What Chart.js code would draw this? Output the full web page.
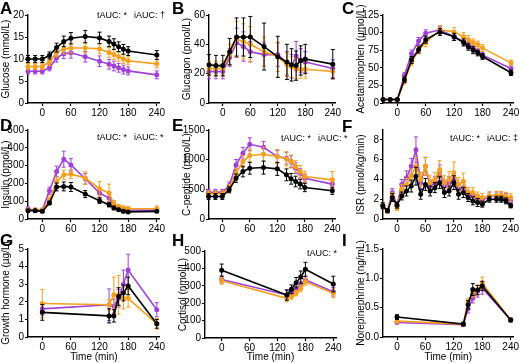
<!DOCTYPE html>
<html>
<head>
<meta charset="utf-8">
<script src="https://cdn.jsdelivr.net/npm/chart.js@4.4.0/dist/chart.umd.min.js"></script>
<style>
  body { margin: 0; background: #fff; width: 520px; height: 363px; position: relative; overflow: hidden; font-family: "Liberation Sans", Arial, sans-serif; }
  canvas { position: absolute; }
  .letter { position: absolute; font-weight: bold; font-size: 17px; line-height: 1; color: #000; }
  .auc { position: absolute; font-size: 9px; line-height: 1; white-space: nowrap; color: #000; }
</style>
</head>
<body>

<script>
// time points (min)
const mealTimes = [-30, -15, 0, 15, 30, 45, 60, 90, 120, 140, 150, 160, 170, 180, 240];
const isrTimes = [-30, -20, -10, 0, 10, 20, 30, 40, 50, 60, 70, 80, 90, 100, 110, 120, 130, 140, 150, 160, 170, 180, 195, 210, 220, 230, 240];
const lateTimes = [0, 140, 150, 160, 170, 180, 240];
const timeTicks = [0, 60, 120, 180, 240];

// A glucose (mmol/L)
const glucoseBlack = [10.0, 10.0, 10.0, 10.8, 12.6, 14.0, 14.7, 15.1, 14.8, 14.0, 13.4, 12.8, 12.2, 11.8, 10.9];
const glucoseBlackErr = [0.8, 0.8, 0.8, 0.8, 1.0, 1.2, 1.3, 1.4, 1.3, 1.2, 1.2, 1.1, 1.1, 1.0, 1.0];
const glucoseOrange = [8.3, 8.3, 8.3, 9.3, 11.5, 12.3, 12.5, 12.5, 12.3, 11.5, 11.0, 10.5, 10.0, 9.6, 8.9];
const glucoseOrangeErr = [0.7, 0.7, 0.7, 0.8, 1.0, 1.1, 1.1, 1.1, 1.1, 1.1, 1.1, 1.0, 1.0, 0.9, 0.9];
const glucosePurple = [7.2, 7.2, 7.2, 8.0, 10.3, 11.2, 11.4, 10.5, 9.5, 8.8, 8.4, 8.0, 7.6, 7.3, 6.4];
const glucosePurpleErr = [0.6, 0.6, 0.6, 0.7, 1.0, 1.1, 1.2, 1.2, 1.2, 1.1, 1.1, 1.0, 1.0, 0.9, 0.9];
const glucoseTicks = [0, 5, 10, 15, 20];

// B glucagon (pmol/L)
const glucagonBlack = [26, 25.5, 25.5, 35, 45, 45, 45, 38.5, 31.5, 28, 26, 25.5, 29, 30, 26.5];
const glucagonBlackErr = [7, 7, 7, 9, 13, 13, 14, 16, 14, 12, 11, 10, 10, 10, 10];
const glucagonOrange = [23.5, 23.5, 23.5, 33, 43.5, 42, 40, 35, 31.5, 26, 24.5, 23.5, 23, 23, 21.5];
const glucagonOrangeErr = [5, 5, 5, 7, 12, 12, 12, 10, 10, 8, 7, 7, 6, 6, 5];
const glucagonPurple = [21.5, 21.5, 21.5, 31, 41, 38.5, 35, 33, 33, 27, 25, 32, 29, 28, 23.5];
const glucagonPurpleErr = [5, 5, 5, 6, 10, 10, 7, 8, 8, 8, 8, 10, 8, 7, 6];
const glucagonTicks = [0, 20, 40, 60];

// C acetaminophen (umol/L)
const acetaBlack = [5, 5, 5, 33, 61, 76, 90, 101, 94, 86, 80, 75, 71, 66, 43];
const acetaBlackErr = [1, 1, 1, 4, 5, 5, 5, 5, 5, 5, 5, 5, 4, 4, 4];
const acetaOrange = [5, 5, 5, 31, 58, 75, 86, 104, 101, 94, 90, 86, 83, 78, 57];
const acetaOrangeErr = [1, 1, 1, 4, 5, 5, 6, 6, 6, 6, 6, 5, 5, 5, 4];
const acetaPurple = [5, 5, 5, 39, 70, 88, 99, 104, 94, 87, 82, 79, 73, 68, 49];
const acetaPurpleErr = [1, 1, 1, 4, 5, 5, 5, 5, 5, 5, 5, 5, 4, 4, 4];
const acetaTicks = [0, 25, 50, 75, 100, 125];

// D insulin (pmol/L)
const insulinBlack = [47, 47, 43, 90, 180, 183, 180, 140, 103, 80, 62, 52, 43, 40, 43];
const insulinBlackErr = [8, 8, 8, 10, 22, 25, 25, 20, 15, 12, 10, 8, 8, 6, 6];
const insulinOrange = [50, 50, 50, 108, 211, 248, 252, 230, 170, 146, 84, 67, 62, 58, 58];
const insulinOrangeErr = [10, 10, 10, 15, 25, 25, 25, 35, 40, 50, 20, 15, 12, 12, 15];
const insulinPurple = [56, 50, 50, 159, 267, 336, 304, 226, 146, 118, 80, 65, 56, 49, 50];
const insulinPurpleErr = [12, 10, 10, 20, 30, 45, 35, 30, 25, 20, 15, 12, 10, 8, 10];
const insulinTicks = [0, 100, 200, 300, 400, 500];

// E C-peptide (pmol/L)
const cpepBlack = [380, 380, 380, 492, 688, 800, 856, 867, 845, 744, 677, 632, 588, 531, 476];
const cpepBlackErr = [50, 50, 50, 50, 70, 90, 100, 110, 110, 100, 90, 90, 80, 70, 60];
const cpepOrange = [425, 425, 425, 520, 772, 968, 1069, 1091, 1052, 1013, 968, 884, 800, 716, 660];
const cpepOrangeErr = [50, 50, 50, 60, 80, 100, 110, 120, 120, 120, 110, 100, 100, 90, 140];
const cpepPurple = [450, 450, 450, 565, 912, 1108, 1259, 1208, 1052, 1024, 968, 856, 772, 688, 588];
const cpepPurpleErr = [50, 50, 50, 60, 90, 100, 110, 100, 100, 100, 100, 90, 80, 70, 70];
const cpepTicks = [0, 500, 1000, 1500];

// F insulin secretion rate (pmol/kg/min)
const isrBlack = [1.33, 0.83, 2.17, 1.4, 2.33, 2.83, 3.33, 4.33, 2.5, 3.5, 2.83, 3.17, 3.67, 2.67, 2.83, 3.67, 2.5, 2.67, 2.17, 1.83, 1.67, 1.5, 2.0, 2.0, 2.0, 1.83, 1.33];
const isrBlackErr = [0.3, 0.2, 0.4, 0.3, 0.4, 0.5, 0.6, 0.9, 0.5, 0.6, 0.5, 0.5, 0.6, 0.5, 0.5, 0.7, 0.5, 0.5, 0.4, 0.4, 0.4, 0.3, 0.3, 0.3, 0.3, 0.3, 0.2];
const isrOrange = [1.33, 0.83, 2.3, 1.17, 3.0, 3.5, 4.33, 5.33, 4.0, 5.33, 3.67, 4.0, 5.0, 3.67, 4.0, 4.67, 3.5, 3.83, 2.67, 2.67, 2.33, 2.17, 2.33, 2.4, 2.4, 2.3, 2.17];
const isrOrangeErr = [0.3, 0.2, 0.4, 0.3, 0.5, 0.6, 0.7, 0.9, 0.7, 0.9, 0.7, 0.7, 0.9, 0.7, 0.8, 1.1, 0.7, 0.8, 0.5, 0.5, 0.4, 0.4, 0.4, 0.4, 0.4, 0.4, 0.4];
const isrPurple = [1.33, 0.83, 2.67, 1.4, 3.5, 4.17, 5.33, 7.0, 3.67, 5.33, 3.33, 3.67, 4.67, 3.33, 3.67, 4.0, 3.0, 3.17, 2.5, 2.33, 2.0, 1.83, 2.33, 2.33, 2.33, 2.2, 1.83];
const isrPurpleErr = [0.3, 0.2, 0.4, 0.3, 0.5, 0.7, 0.8, 1.3, 0.6, 0.9, 0.6, 0.6, 0.8, 0.6, 0.6, 0.7, 0.5, 0.5, 0.4, 0.4, 0.4, 0.3, 0.4, 0.4, 0.4, 0.4, 0.3];
const isrTicks = [0, 2, 4, 6, 8];

// G growth hormone (ug/L)
const ghBlack = [1.4, 1.2, 1.2, 2.3, 2.5, 2.9, 0.75];
const ghBlackErr = [0.45, 0.4, 0.35, 0.5, 0.45, 0.5, 0.25];
const ghOrange = [1.9, 1.83, 2.4, 2.4, 2.2, 2.2, 0.75];
const ghOrangeErr = [0.8, 0.3, 1.0, 1.1, 0.6, 0.5, 0.3];
const ghPurple = [1.6, 1.83, 1.75, 2.2, 3.0, 3.8, 1.55];
const ghPurpleErr = [0.35, 0.9, 0.4, 0.5, 0.8, 0.9, 0.4];
const ghTicks = [0, 1, 2, 3, 4, 5];

// H cortisol (nmol/L)
const cortBlack = [390, 247, 280, 318, 350, 395, 310];
const cortBlackErr = [35, 30, 25, 30, 35, 40, 45];
const cortOrange = [329, 228, 238, 257, 285, 323, 257];
const cortOrangeErr = [20, 20, 15, 15, 20, 20, 25];
const cortPurple = [336, 247, 257, 276, 304, 333, 266];
const cortPurpleErr = [20, 25, 20, 20, 20, 20, 25];
const cortTicks = [0, 100, 200, 300, 400, 500];

// I norepinephrine (ng/mL)
const neBlack = [0.34, 0.22, 0.55, 0.81, 0.80, 0.87, 0.29];
const neBlackErr = [0.04, 0.03, 0.07, 0.10, 0.08, 0.08, 0.03];
const neOrange = [0.27, 0.22, 0.60, 0.75, 0.80, 0.92, 0.29];
const neOrangeErr = [0.03, 0.03, 0.06, 0.07, 0.08, 0.10, 0.03];
const nePurple = [0.25, 0.21, 0.48, 0.66, 0.78, 0.83, 0.29];
const nePurpleErr = [0.03, 0.03, 0.07, 0.08, 0.10, 0.10, 0.03];
const neTicks = [0, 0.5, 1.0, 1.5];

const BLACK = '#000000';
const ORANGE = '#f5a020';
const PURPLE = '#a040d8';
const FONT = '"Liberation Sans", Arial, sans-serif';

// draw error bars per dataset so they layer with their own line
const errorBars = {
  id: 'errorBars',
  afterDatasetDraw(chart, args) {
    const ds = chart.data.datasets[args.index];
    const y = chart.scales.y;
    const ctx = chart.ctx;
    ctx.save();
    ctx.strokeStyle = ds.borderColor;
    ctx.lineWidth = 1;
    args.meta.data.forEach((pt, j) => {
      const v = ds.data[j].y, e = ds.errors[j];
      const top = y.getPixelForValue(v + e);
      const bot = y.getPixelForValue(Math.max(v - e, 0));
      ctx.beginPath();
      ctx.moveTo(pt.x, top); ctx.lineTo(pt.x, bot);
      ctx.moveTo(pt.x - 2, top); ctx.lineTo(pt.x + 2, top);
      ctx.moveTo(pt.x - 2, bot); ctx.lineTo(pt.x + 2, bot);
      ctx.stroke();
    });
    ctx.restore();
  }
};

function series(times, vals, errs, color) {
  return {
    data: times.map((t, i) => ({ x: t, y: vals[i] })),
    errors: errs,
    borderColor: color,
    backgroundColor: color,
    borderWidth: 1.6,
    pointRadius: 1.7,
    pointHoverRadius: 0,
    tension: 0,
    clip: false
  };
}

function panel(p) {
  const k = (p.x240 - p.x0) / 240;
  const xmin = -(p.x0 - p.ax) / k;
  const xmax = 246;
  const right = p.x0 + xmax * k;
  const left = p.ax - 28;
  const padRight = 10;
  const width = Math.round(right + padRight - left);
  const height = p.rowBot - p.rowTop;
  const cv = document.createElement('canvas');
  cv.width = width; cv.height = height;
  cv.style.left = left + 'px'; cv.style.top = p.rowTop + 'px';
  cv.style.width = width + 'px'; cv.style.height = height + 'px';
  document.body.appendChild(cv);

  const axisStyle = {
    grid: { display: true, drawOnChartArea: false, drawTicks: true, tickLength: 3, tickColor: BLACK, tickWidth: 1.2 },
    border: { display: true, color: BLACK, width: 1.4 }
  };

  new Chart(cv, {
    type: 'line',
    data: {
      datasets: [
        series(p.times, p.black, p.blackErr, BLACK),
        series(p.times, p.orange, p.orangeErr, ORANGE),
        series(p.times, p.purple, p.purpleErr, PURPLE)
      ]
    },
    options: {
      responsive: false,
      animation: false,
      devicePixelRatio: 1,
      layout: { padding: { top: p.top - p.rowTop, right: width - (right - left), left: 0, bottom: 0 } },
      plugins: { legend: { display: false }, tooltip: { enabled: false } },
      scales: {
        x: Object.assign({
          type: 'linear', min: xmin, max: xmax,
          afterBuildTicks: s => { s.ticks = timeTicks.map(v => ({ value: v })); },
          afterFit: s => { s.height = p.rowBot - p.bot; },
          ticks: { color: BLACK, font: { family: FONT, size: 10 }, padding: 1, maxRotation: 0, autoSkip: false },
          title: { display: !!p.xTitle, text: p.xTitle || '', color: BLACK, font: { family: FONT, size: 10 }, padding: 0 }
        }, axisStyle),
        y: Object.assign({
          type: 'linear', min: 0, max: p.ymax,
          afterBuildTicks: s => { s.ticks = p.yTicks.map(v => ({ value: v })); },
          afterFit: s => { s.width = 28; },
          ticks: { color: BLACK, font: { family: FONT, size: 10 }, padding: 1, callback: v => v.toFixed(p.dec || 0) },
          title: { display: true, text: p.yTitle, color: BLACK, font: { family: FONT, size: 10 }, padding: 0 }
        }, axisStyle)
      }
    },
    plugins: [errorBars]
  });
}

const row1 = { rowTop: 0, rowBot: 117, top: 15, bot: 103 };
const row2 = { rowTop: 115, rowBot: 232, top: 130, bot: 219 };
const row3 = { rowTop: 234, rowBot: 363, top: 249, bot: 337, xTitle: 'Time (min)' };

panel(Object.assign({}, row1, { ax: 28, x0: 42.3, x240: 156.8, times: mealTimes, black: glucoseBlack, blackErr: glucoseBlackErr, orange: glucoseOrange, orangeErr: glucoseOrangeErr, purple: glucosePurple, purpleErr: glucosePurpleErr, ymax: 20, yTicks: glucoseTicks, yTitle: 'Glucose (mmol/L)' }));
panel(Object.assign({}, row1, { ax: 208.5, x0: 222.3, x240: 332.3, times: mealTimes, black: glucagonBlack, blackErr: glucagonBlackErr, orange: glucagonOrange, orangeErr: glucagonOrangeErr, purple: glucagonPurple, purpleErr: glucagonPurpleErr, ymax: 60, yTicks: glucagonTicks, yTitle: 'Glucagon (pmol/L)' }));
panel(Object.assign({}, row1, { ax: 383, x0: 397.3, x240: 511, times: mealTimes, black: acetaBlack, blackErr: acetaBlackErr, orange: acetaOrange, orangeErr: acetaOrangeErr, purple: acetaPurple, purpleErr: acetaPurpleErr, ymax: 125, yTicks: acetaTicks, yTitle: 'Acetaminophen (µmol/L)' }));

panel(Object.assign({}, row2, { ax: 28, x0: 42.3, x240: 156.8, times: mealTimes, black: insulinBlack, blackErr: insulinBlackErr, orange: insulinOrange, orangeErr: insulinOrangeErr, purple: insulinPurple, purpleErr: insulinPurpleErr, ymax: 500, yTicks: insulinTicks, yTitle: 'Insulin (pmol/L)' }));
panel(Object.assign({}, row2, { ax: 209, x0: 222.3, x240: 332.3, times: mealTimes, black: cpepBlack, blackErr: cpepBlackErr, orange: cpepOrange, orangeErr: cpepOrangeErr, purple: cpepPurple, purpleErr: cpepPurpleErr, ymax: 1500, yTicks: cpepTicks, yTitle: 'C-peptide (pmol/L)' }));
panel(Object.assign({}, row2, { ax: 383.3, x0: 397.3, x240: 511, times: isrTimes, black: isrBlack, blackErr: isrBlackErr, orange: isrOrange, orangeErr: isrOrangeErr, purple: isrPurple, purpleErr: isrPurpleErr, ymax: 9, yTicks: isrTicks, yTitle: 'ISR (pmol/kg/min)' }));

panel(Object.assign({}, row3, { ax: 28, x0: 42.3, x240: 156.8, times: lateTimes, black: ghBlack, blackErr: ghBlackErr, orange: ghOrange, orangeErr: ghOrangeErr, purple: ghPurple, purpleErr: ghPurpleErr, ymax: 5, yTicks: ghTicks, yTitle: 'Growth hormone (µg/L)' }));
panel(Object.assign({}, row3, { ax: 205, x0: 221.7, x240: 333.3, top: 251, bot: 338, times: lateTimes, black: cortBlack, blackErr: cortBlackErr, orange: cortOrange, orangeErr: cortOrangeErr, purple: cortPurple, purpleErr: cortPurpleErr, ymax: 500, yTicks: cortTicks, yTitle: 'Cortisol (nmol/L)' }));
panel(Object.assign({}, row3, { ax: 383.3, x0: 397.3, x240: 511, times: lateTimes, black: neBlack, blackErr: neBlackErr, orange: neOrange, orangeErr: neOrangeErr, purple: nePurple, purpleErr: nePurpleErr, ymax: 1.5, yTicks: neTicks, dec: 1, yTitle: 'Norepinephrine (ng/mL)' }));

// panel letters and AUC notes
const notes = [
  ['letter', 'A', 0, 0], ['letter', 'B', 172, 0], ['letter', 'C', 342, 0],
  ['letter', 'D', 0, 117], ['letter', 'E', 172, 117], ['letter', 'F', 342, 118],
  ['letter', 'G', 0, 232], ['letter', 'H', 172, 232], ['letter', 'I', 342, 232],
  ['auc', 'tAUC: *\u2002 iAUC: \u2020', 97, 11],
  ['auc', 'tAUC: *\u2002 iAUC: *', 97, 133],
  ['auc', 'tAUC: *\u2002 iAUC: *', 281, 134],
  ['auc', 'tAUC: *\u2002 iAUC: \u2021', 450, 134],
  ['auc', 'tAUC: *', 307, 249]
];
notes.forEach(([cls, text, x, y]) => {
  const d = document.createElement('div');
  d.className = cls;
  d.textContent = text;
  d.style.left = x + 'px';
  d.style.top = y + 'px';
  document.body.appendChild(d);
});
</script>
</body>
</html>
